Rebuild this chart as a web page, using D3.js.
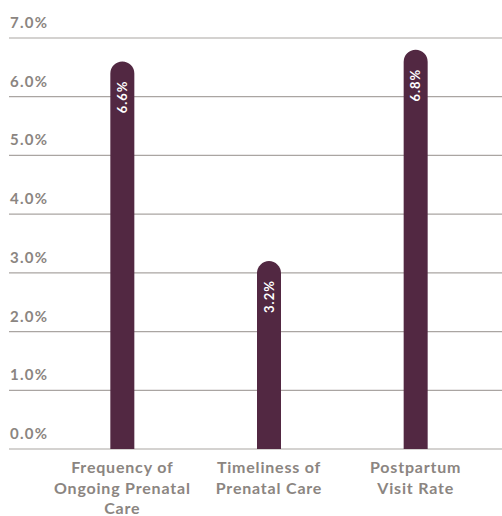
<!DOCTYPE html>
<html><head><meta charset="utf-8">
<script src="https://cdn.jsdelivr.net/npm/d3@7"></script>
<style>body{margin:0;background:#fff;}svg{display:block;}</style>
</head><body>
<script>
const categories = [["Frequency of","Ongoing Prenatal","Care"],["Timeliness of","Prenatal Care"],["Postpartum","Visit Rate"]];
const values = [6.6, 3.2, 6.8];
const yTicks = [0,1,2,3,4,5,6,7];

const W = 502, H = 516;
const font = "Lato, 'Open Sans', sans-serif";
const gray = "#8b8581";
const barColor = "#522842";
const svg = d3.select("body").append("svg").attr("width", W).attr("height", H);

const y = d3.scaleLinear().domain([0,7]).range([449, 38]);
const x = d3.scaleBand().domain(d3.range(values.length)).range([49, 489]).paddingInner(0).paddingOuter(0);
const bw = 24;

const yAxis = svg.append("g");
yTicks.forEach(t => {
  yAxis.append("line").attr("x1", 9).attr("x2", W).attr("y1", y(t)).attr("y2", y(t))
    .attr("stroke", "#aaa5a2").attr("stroke-width", 1.2);
  yAxis.append("text").attr("x", 10).attr("y", y(t) - 10).text(t.toFixed(1) + "%")
    .attr("fill", gray).attr("font-family", font).attr("font-weight", 700).attr("font-size", 15)
    .attr("letter-spacing", 1.3);
});

const bars = svg.append("g");
values.forEach((v, i) => {
  const cx = x(i) + x.bandwidth()/2;
  const x0 = cx - bw/2, r = bw/2;
  const top = y(v), base = y(0);
  const p = d3.path();
  p.moveTo(x0, base);
  p.lineTo(x0, top + r);
  p.arc(cx, top + r, r, Math.PI, 0);
  p.lineTo(x0 + bw, base);
  p.closePath();
  bars.append("path").attr("d", p.toString()).attr("fill", barColor);
  bars.append("text").attr("transform", `translate(${cx + 4.5},${top + 19}) rotate(-90)`)
    .attr("text-anchor", "end").text(v.toFixed(1) + "%")
    .attr("fill", "#fff").attr("font-family", font).attr("font-weight", 700).attr("font-size", 13)
    .attr("letter-spacing", 1);
});

const labels = svg.append("g");
categories.forEach((lines, i) => {
  const cx = x(i) + x.bandwidth()/2;
  const t = labels.append("text").attr("text-anchor", "middle")
    .attr("fill", gray).attr("font-family", font).attr("font-weight", 700).attr("font-size", 16)
    .attr("letter-spacing", 0.8);
  lines.forEach((l, j) => t.append("tspan").attr("x", cx).attr("y", 473 + j*20.7).text(l));
});
</script>
</body></html>
